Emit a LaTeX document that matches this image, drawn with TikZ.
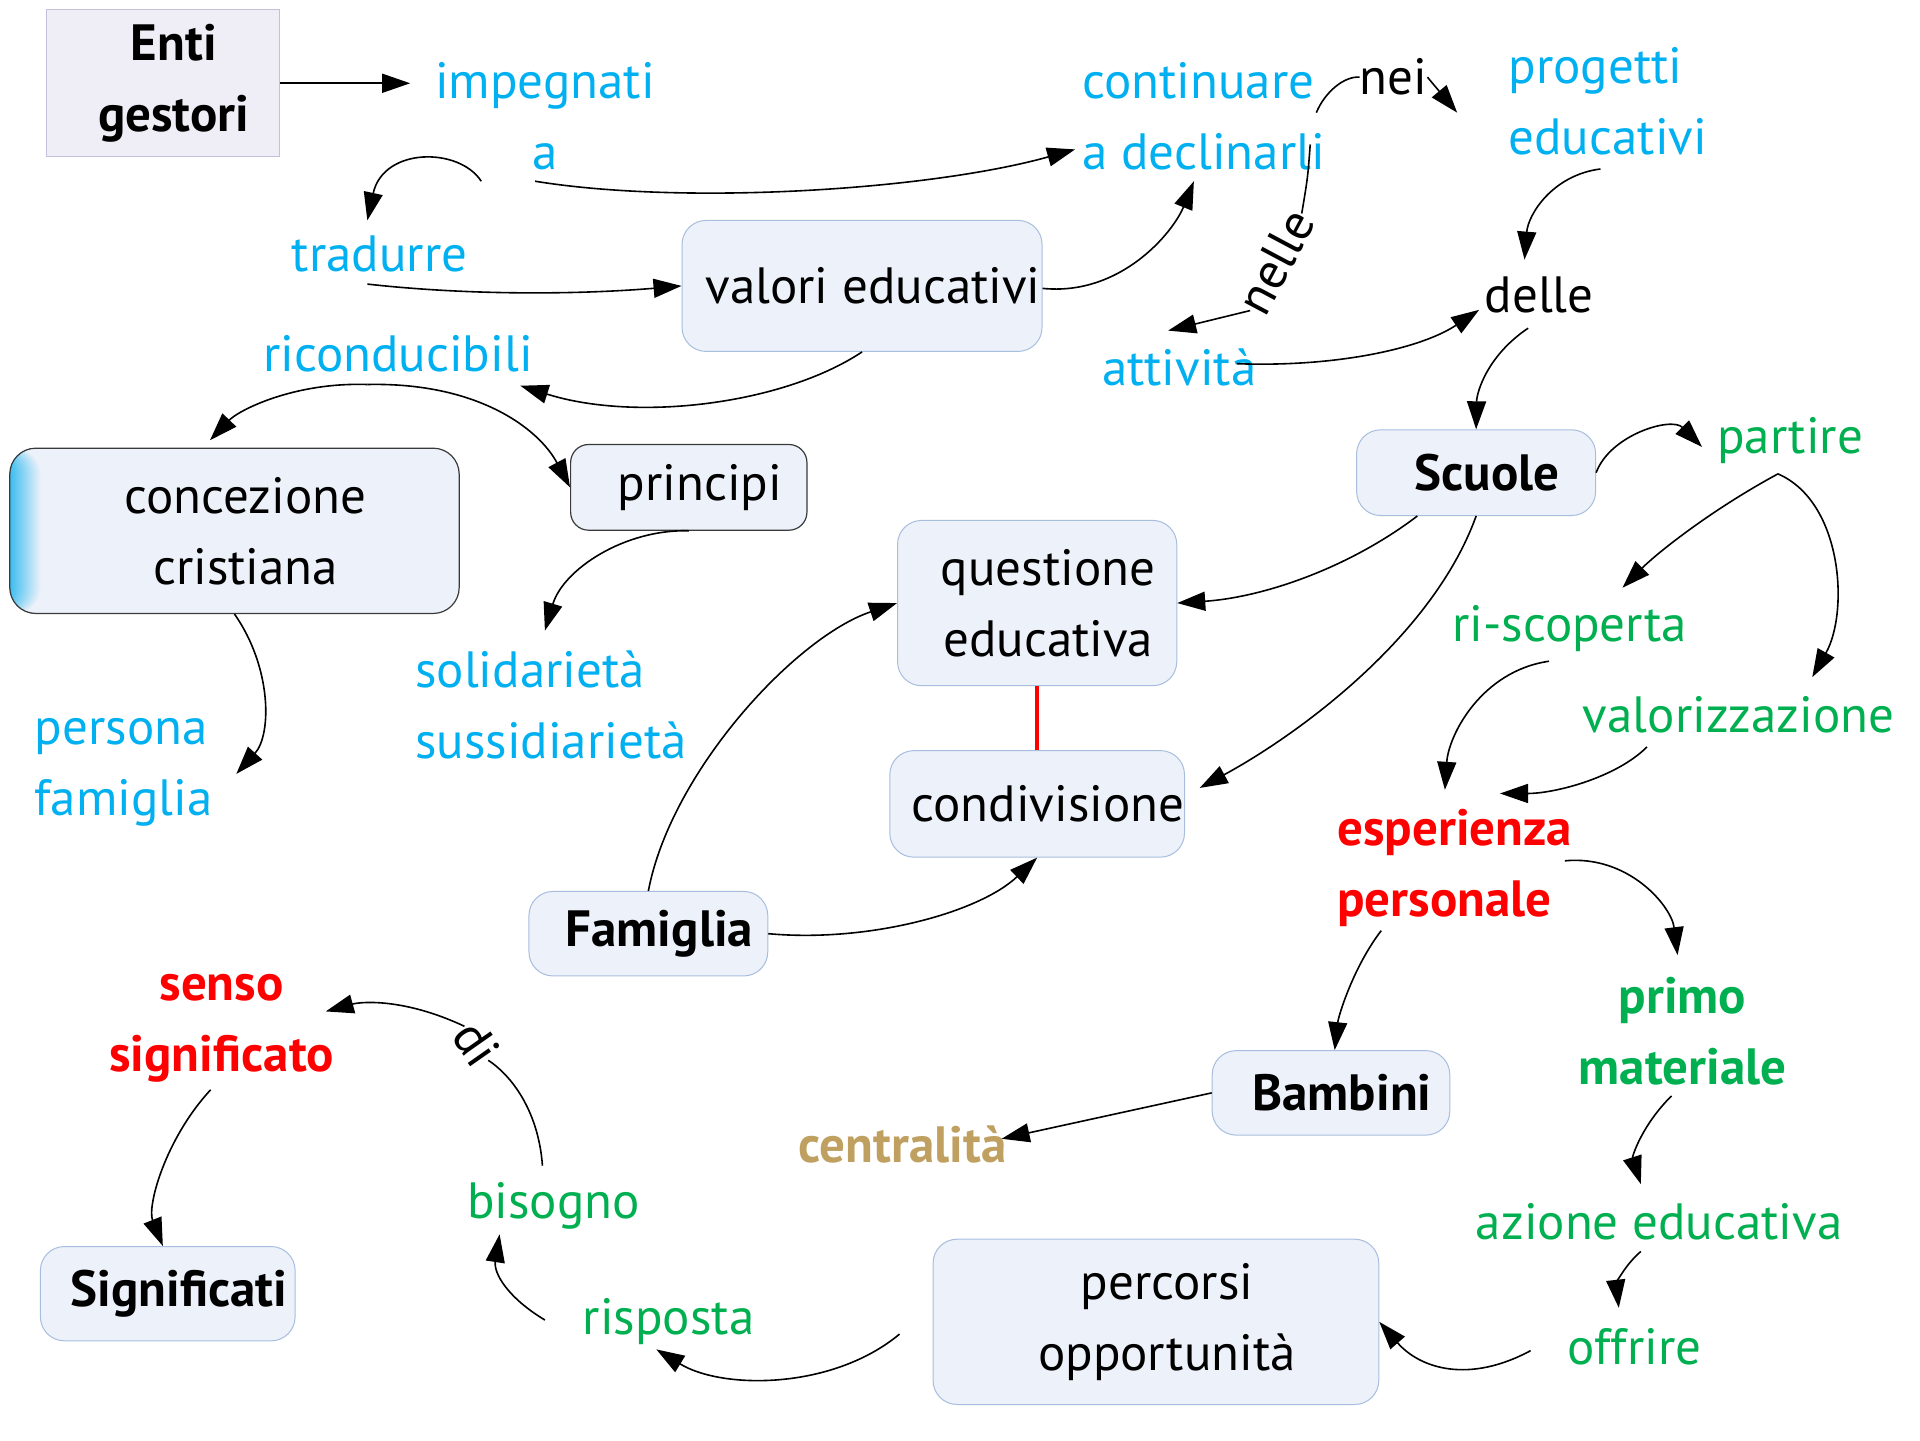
\documentclass[tikz,border=0pt]{standalone}
\usepackage{fontspec}
\setmainfont{PT Sans}
\usetikzlibrary{arrows.meta,calc}
\definecolor{cblue}{HTML}{00B0F0}
\definecolor{cgreen}{HTML}{00B050}
\definecolor{cred}{HTML}{FF0000}
\definecolor{ctan}{HTML}{C0A060}
\definecolor{boxfill}{HTML}{EDF1F9}
\definecolor{boxline}{HTML}{A8BEDF}
\definecolor{entifill}{HTML}{EFEEF6}
\definecolor{entiline}{HTML}{C6BEDC}
\definecolor{darkline}{HTML}{3A3A3A}
\definecolor{gradblue}{HTML}{3CBEF0}
\newcommand{\bxs}{\hspace*{22pt}}
\begin{document}
\begin{tikzpicture}[x=1.2245pt,y=-1.2245pt,
  txt/.style={inner sep=0pt, font=\fontsize{51}{71}\selectfont, align=center},
  txtb/.style={inner sep=0pt, font=\fontsize{51}{71}\selectfont\bfseries, align=center},
  tb/.style={txt, text=cblue},
  tg/.style={txt, text=cgreen},
  tgb/.style={txtb, text=cgreen},
  tr/.style={txtb, text=cred},
  tk/.style={txt, text=black},
  ttan/.style={txtb, text=ctan},
  rbox/.style={txt, draw=boxline, fill=boxfill, rounded corners=24pt, line width=1pt},
  rboxb/.style={rbox, font=\fontsize{51}{71}\selectfont\bfseries},
  dbox/.style={txt, draw=darkline, fill=boxfill, rounded corners=26pt, line width=1.2pt},
  ebox/.style={txtb, draw=entiline, fill=entifill, line width=1.2pt},
  arr/.style={-{Triangle[length=28pt,width=19pt]}, line width=1.6pt, black},
  con/.style={line width=1.6pt, black},
  redlink/.style={line width=4pt, cred}
]
\fill[white] (0,0) rectangle (1568,1176);
\useasboundingbox (0,0) rectangle (1568,1176);

% nodes
\node[ebox, minimum width=232.7pt, minimum height=147pt] (enti) at (133,68) {\bxs Enti\\\bxs gestori};
\node[tb] (impegnati) at (445,95) {impegnati\\a};
\node[tb] (tradurre) at (310,207) {tradurre};
\node[rbox, minimum width=360pt, minimum height=131pt] (valori) at (704,233.5) {\bxs valori educativi};
\node[tb, align=left] (continuare) at (983,95) {continuare\\a declinarli};
\node[tk] (nei) at (1138,63) {nei};
\node[tb, align=left] (progetti) at (1313,83) {progetti\\educativi};
\node[tk] (delle) at (1257,241) {delle};
\node[tb] (attivita) at (963,300) {attività};
\node[tk, rotate=62] (nelle) at (1042,214) {nelle};
\node[rboxb, minimum width=239pt, minimum height=85.7pt] (scuole) at (1205.5,386) {\bxs Scuole};
\node[tb] (ricond) at (325,289) {riconducibili};
\node[dbox, minimum width=449.4pt, minimum height=165.3pt,
  path picture={\foreach \i [evaluate=\i as \p using int(100-4*\i)] in {25,24,...,0}
    {\fill[gradblue!\p!boxfill] (path picture bounding box.south west)
      rectangle ([xshift=\i*1.2245pt+1.2245pt]path picture bounding box.north west);}}]
  (concezione) at (191.5,433.5) {\bxs concezione\\\bxs cristiana};
\node[dbox, rounded corners=18pt, minimum width=236.3pt, minimum height=85.7pt] (principi) at (562.5,398) {\bxs principi};
\node[tb, align=left] (solid) at (450,576) {solidarietà\\sussidiarietà};
\node[tb, align=left] (persona) at (101,631) {persona\\famiglia};
\node[rbox, minimum width=279.2pt, minimum height=165.3pt] (questione) at (847,492.5) {\bxs questione\\\bxs educativa};
\node[rbox, minimum width=289pt, minimum height=106.5pt] (condiv) at (847,656.5) {\bxs condivisione};
\node[rboxb, minimum width=238.8pt, minimum height=84.5pt] (famiglia) at (529.5,762.5) {\bxs Famiglia};
\node[tg] (partire) at (1462,360) {partire};
\node[tg] (riscoperta) at (1282,513) {ri-scoperta};
\node[tg] (valoriz) at (1420,584) {valorizzazione};
\node[tr, align=left] (esperienza) at (1188,709) {esperienza\\personale};
\node[tgb] (primo) at (1374,842) {primo\\materiale};
\node[tg] (azione) at (1355,998) {azione educativa};
\node[tg] (offrire) at (1335,1100) {offrire};
\node[rbox, minimum width=445.7pt, minimum height=165.3pt] (percorsi) at (944,1079.5) {\bxs percorsi\\\bxs opportunità};
\node[tg] (risposta) at (546,1079) {risposta};
\node[tg] (bisogno) at (452,985) {bisogno};
\node[tk, rotate=-55] (di) at (389,852) {di};
\node[tr] (senso) at (181,840) {senso\\significato};
\node[rboxb, minimum width=254.7pt, minimum height=94.3pt] (significati) at (137,1056.5) {\bxs Significati};
\node[rboxb, minimum width=237.6pt, minimum height=84.5pt] (bambini) at (1087,892.5) {\bxs Bambini};
\node[ttan] (centralita) at (737,935) {centralità};

% connectors
\draw[arr] (enti.east) -- ($(impegnati)+(-110,-27)$);
\draw[arr] ($(impegnati)+(-8,53)$) .. controls (560,168) and (760,155) .. ($(continuare)+(-105,27)$);
\draw[arr] ($(impegnati)+(-52,53)$) .. controls (375,120) and (313,120) .. ($(tradurre)+(-10,-27)$);
\draw[arr] ($(tradurre)+(-10,25)$) .. controls (390,242) and (480,240) .. (valori.west);
\draw[arr] ($(valori.east)+(0,2)$) .. controls (915,242) and (958,190) .. ($(continuare)+(-8,53)$);
\draw[con] ($(continuare)+(92,-3)$) .. controls (1082,75) and (1098,62) .. (nei.west);
\draw[arr] (nei.east) -- ($(progetti)+(-123,9)$);
\draw[con] ($(continuare)+(87,23)$) .. controls (1068,145) .. (nelle.east);
\draw[arr] (nelle.west) -- ($(attivita)+(-9,-30)$);
\draw[arr] ($(progetti)+(-6,55)$) .. controls (1268,143) and (1248,175) .. ($(delle)+(-12,-29)$);
\draw[arr] ($(attivita)+(47,-3)$) .. controls (1090,300) and (1160,285) .. ($(delle)+(-49,12)$);
\draw[arr] ($(delle)+(-9,27)$) .. controls (1215,290) and (1206,320) .. (scuole.north);
\draw[arr] (valori.south) .. controls (640,330) and (520,345) .. ($(ricond)+(100,26)$);
\draw[arr] ($(ricond)+(-25,25)$) .. controls (240,312) and (195,335) .. ($(concezione.north)+(-20,-6)$);
\draw[arr] ($(ricond)+(-25,25)$) .. controls (390,312) and (440,350) .. (principi.west);
\draw[arr] (principi.south) .. controls (510,432) and (460,465) .. ($(solid)+(-5,-61)$);
\draw[arr] (concezione.south) .. controls (222,545) and (222,600) .. ($(persona)+(92,1)$);
\draw[arr] ($(scuole.south)+(-48,0)$) .. controls (1100,465) and (1030,488) .. (questione.east);
\draw[arr] (scuole.south) .. controls (1170,520) and (1060,600) .. ($(condiv.east)+(12,-13)$);
\draw[arr] (famiglia.north) .. controls (548,630) and (650,520) .. (questione.west);
\draw[arr] (famiglia.east) .. controls (710,770) and (800,745) .. (condiv.south);
\draw[redlink] (questione.south) -- (condiv.north);
\draw[arr] (scuole.east) .. controls (1315,355) and (1365,340) .. ($(partire)+(-72,5)$);
\draw[arr] ($(partire)+(-10,27)$) .. controls (1400,415) and (1355,450) .. ($(riscoperta)+(43,-33)$);
\draw[arr] ($(partire)+(-10,27)$) .. controls (1505,410) and (1510,500) .. ($(valoriz)+(60,-31)$);
\draw[arr] ($(riscoperta)+(-17,27)$) .. controls (1210,548) and (1183,600) .. ($(esperienza)+(-8,-64)$);
\draw[arr] ($(valoriz)+(-75,26)$) .. controls (1320,635) and (1270,648) .. ($(esperienza)+(37,-61)$);
\draw[arr] ($(esperienza)+(90,-6)$) .. controls (1330,698) and (1365,740) .. ($(primo)+(-4,-62)$);
\draw[arr] ($(esperienza)+(-60,51)$) .. controls (1105,790) and (1093,830) .. ($(bambini.north)+(3,0)$);
\draw[arr] ($(primo)+(-9,53)$) .. controls (1340,920) and (1333,945) .. ($(azione)+(-15,-31)$);
\draw[arr] ($(azione)+(-15,24)$) .. controls (1325,1035) and (1320,1050) .. ($(offrire)+(-13,-32)$);
\draw[arr] ($(offrire)+(-85,3)$) .. controls (1200,1130) and (1160,1118) .. (percorsi.east);
\draw[arr] ($(percorsi.west)+(-27,10)$) .. controls (680,1135) and (590,1135) .. ($(risposta)+(-10,23)$);
\draw[arr] ($(risposta)+(-101,-1)$) .. controls (415,1060) and (403,1040) .. ($(bisogno)+(-44,23)$);
\draw[con] ($(bisogno)+(-9,-33)$) .. controls (440,910) and (420,880) .. (di.east);
\draw[arr] (di.west) .. controls (330,815) and (295,818) .. ($(senso)+(85,-14)$);
\draw[arr] ($(senso)+(-9,50)$) .. controls (135,930) and (120,985) .. ($(significati.north)+(-4,0)$);
\draw[arr] (bambini.west) -- ($(centralita)+(81,-5)$);
\end{tikzpicture}
\end{document}
